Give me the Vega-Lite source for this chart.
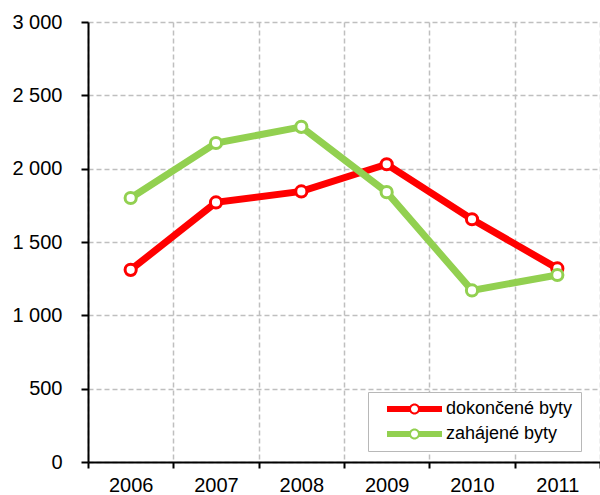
{
  "$schema": "https://vega.github.io/schema/vega-lite/v6.json",
  "width": 512,
  "height": 440,
  "autosize": {"type": "none"},
  "padding": {"left": 88, "top": 22, "right": 0, "bottom": 33},
  "background": "white",
  "config": {"view": {"stroke": null}, "font": "Liberation Sans"},
  "data": {
    "values": [
      {"rok": "2006", "serie": "dokončené byty", "pocet": 1310},
      {"rok": "2007", "serie": "dokončené byty", "pocet": 1770},
      {"rok": "2008", "serie": "dokončené byty", "pocet": 1845},
      {"rok": "2009", "serie": "dokončené byty", "pocet": 2030},
      {"rok": "2010", "serie": "dokončené byty", "pocet": 1655},
      {"rok": "2011", "serie": "dokončené byty", "pocet": 1320},
      {"rok": "2006", "serie": "zahájené byty", "pocet": 1800},
      {"rok": "2007", "serie": "zahájené byty", "pocet": 2175},
      {"rok": "2008", "serie": "zahájené byty", "pocet": 2285},
      {"rok": "2009", "serie": "zahájené byty", "pocet": 1840},
      {"rok": "2010", "serie": "zahájené byty", "pocet": 1170},
      {"rok": "2011", "serie": "zahájené byty", "pocet": 1275}
    ]
  },
  "encoding": {
    "x": {
      "field": "rok", "type": "ordinal",
      "scale": {"type": "band", "paddingInner": 0, "paddingOuter": 0},
      "axis": {
        "title": null, "labelAngle": 0, "tickBand": "extent",
        "grid": true, "gridDash": [5, 3], "gridColor": "#bfbfbf", "gridWidth": 1.5,
        "domainColor": "black", "domainWidth": 2, "tickColor": "black", "tickWidth": 2, "tickSize": 6,
        "labelFontSize": 20, "labelColor": "black", "labelPadding": 7, "labelFont": "Liberation Sans"
      }
    },
    "y": {
      "field": "pocet", "type": "quantitative",
      "scale": {"domain": [0, 3000]},
      "axis": {
        "title": null, "values": [0, 500, 1000, 1500, 2000, 2500, 3000],
        "labelExpr": "replace(format(datum.value, ','), ',', ' ')",
        "grid": true, "gridDash": [5, 3], "gridColor": "#bfbfbf", "gridWidth": 1.5,
        "domainColor": "black", "domainWidth": 2, "tickColor": "black", "tickWidth": 2, "tickSize": 7,
        "labelFontSize": 20, "labelColor": "black", "labelPadding": 19, "labelFont": "Liberation Sans"
      }
    },
    "color": {
      "field": "serie", "type": "nominal",
      "scale": {"domain": ["dokončené byty", "zahájené byty"], "range": ["#ff0000", "#92d050"]},
      "legend": {
        "orient": "none", "legendX": 280, "legendY": 370, "title": null,
        "strokeColor": "#b8b8b8", "fillColor": "white", "padding": 8,
        "symbolType": "M-3.056,-0.333H-0.52V0.333H-3.056Z M0.52,-0.333H3.056V0.333H0.52Z M0.611,0A0.611,0.611 0 1,1 -0.611,0A0.611,0.611 0 1,1 0.611,0Z M0.389,0A0.389,0.389 0 1,0 -0.389,0A0.389,0.389 0 1,0 0.389,0Z",
        "symbolSize": 324, "symbolStrokeWidth": 0, "symbolOffset": 29.5,
        "labelFontSize": 18, "labelFont": "Liberation Sans", "labelColor": "black", "labelOffset": 22.5,
        "rowPadding": 7,
        "encode": {"symbols": {"update": {"fill": {"scale": "color", "field": "value"}, "fillOpacity": {"value": 1}, "strokeWidth": {"value": 0}}}}
      }
    }
  },
  "layer": [
    {"mark": {"type": "line", "strokeWidth": 7}},
    {"mark": {"type": "point", "shape": "circle", "filled": false, "fill": "white", "fillOpacity": 1, "opacity": 1, "size": 125, "strokeWidth": 3}}
  ]
}
